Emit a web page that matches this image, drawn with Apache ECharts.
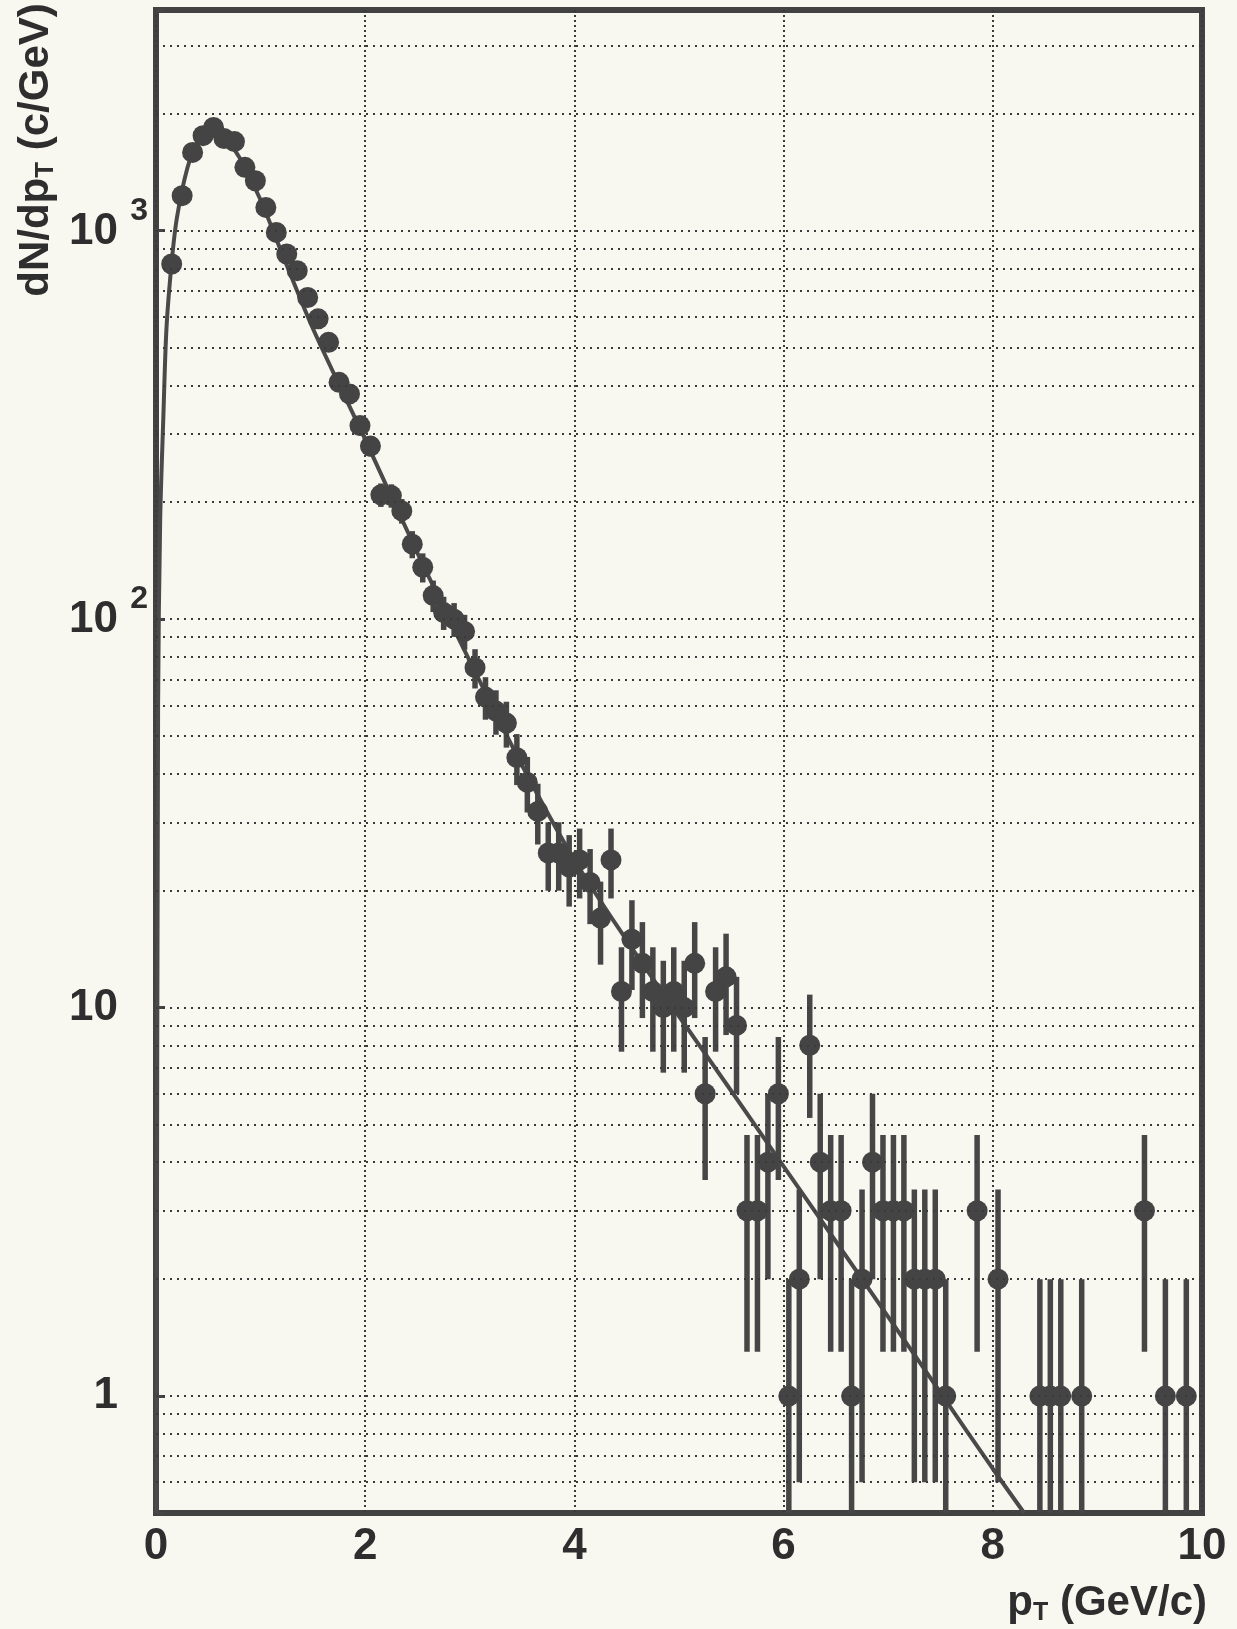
<!DOCTYPE html>
<html><head><meta charset="utf-8">
<script src="https://cdn.jsdelivr.net/npm/echarts@6/dist/echarts.min.js"></script>
<style>html,body{margin:0;padding:0;background:#f8f7f0}#c{width:1237px;height:1629px}</style>
</head><body><div id="c"></div>
<script>
// ---- data ----
const pT = [0.15,0.25,0.35,0.45,0.55,0.65,0.75,0.85,0.95,1.05,1.15,1.25,1.35,1.45,1.55,1.65,1.75,1.85,1.95,2.05,
  2.15,2.25,2.35,2.45,2.55,2.65,2.75,2.85,2.95,3.05,3.15,3.25,3.35,3.45,3.55,3.65,3.75,3.85,3.95,4.05,
  4.15,4.25,4.35,4.45,4.55,4.65,4.75,4.85,4.95,5.05,5.15,5.25,5.35,5.45,5.55,5.65,5.75,5.85,5.95,6.05,
  6.15,6.25,6.35,6.45,6.55,6.65,6.75,6.85,6.95,7.05,7.15,7.25,7.35,7.45,7.55,7.85,8.05,8.45,8.55,8.65,
  8.85,9.45,9.65,9.85];
const dNdpT = [821,1231,1591,1757,1845,1727,1696,1456,1345,1148,990,871,789,673,593,516,407,380,315,279,
  209,208,190,156,136,115,104,100,93,75,63,58,54,44,38,32,25,25,23,24,
  21,17,24,11,15,13,11,10,11,10,13,6,11,12,9,3,3,4,6,1,
  2,8,4,3,3,1,2,4,3,3,3,2,2,2,1,3,2,1,1,1,
  1,3,1,1];
const dNdpTErr = [28.7,35.1,39.9,41.9,43.0,41.6,41.2,38.2,36.7,33.9,31.5,29.5,28.1,25.9,24.4,22.7,20.2,19.5,17.7,16.7,
  14.5,14.4,13.8,12.5,11.7,10.7,10.2,10.0,9.6,8.7,7.9,7.6,7.3,6.6,6.2,5.7,5.0,5.0,4.8,4.9,
  4.6,4.1,4.9,3.3,3.9,3.6,3.3,3.2,3.3,3.2,3.6,2.4,3.3,3.5,3.0,1.7,1.7,2.0,2.4,1.0,
  1.4,2.8,2.0,1.7,1.7,1.0,1.4,2.0,1.7,1.7,1.7,1.4,1.4,1.4,1.0,1.7,1.4,1.0,1.0,1.0,
  1.0,1.7,1.0,1.0];
const fitPT  = [0.005,0.02,0.04,0.07,0.1,0.15,0.2,0.3,0.4,0.5,0.6,0.7,0.8,1.0,1.2,1.5,2.0,2.5,3.0,3.5,4.0,4.5,5.0,5.5,6.0,6.5,7.0,7.5,8.0,8.3];
const fitVal = [0.5,60,180,330,560,830,1080,1450,1700,1790,1770,1680,1540,1200,880,560,290,148,78,42,24,14.9,9.5,6.1,3.9,2.5,1.6,1.02,0.65,0.5];
const xTickLabels = ['0','2','4','6','8','10'];
const yTickValues = [1,10,100,1000];
const yTickBase = ['1','10','10','10'];
const yTickExp  = ['','','2','3'];
const yMin = 0.5, yMax = 3700;

// ---- build ----
const points = pT.map((x,i)=>[x, dNdpT[i]]);
const bars = pT.map((x,i)=>[x, dNdpT[i]-dNdpTErr[i], dNdpT[i]+dNdpTErr[i]]);
const fit = fitPT.map((x,i)=>[x, fitVal[i]]);
const minorGrid = [];
for (let k=-1;k<=3;k++) for (let m=1;m<=9;m++){ const v=m*Math.pow(10,k); if (v>yMin*1.01 && v<yMax*0.99) minorGrid.push(+v.toPrecision(3)); }

const FONT = 'Liberation Sans';
const INK = '#2e2e2e';
const chart = echarts.init(document.getElementById('c'), null, {renderer:'canvas'});
chart.setOption({
  animation:false,
  backgroundColor:'#f8f7f0',
  grid:{left:156,right:35,top:10,bottom:116,show:true,borderColor:'#424242',borderWidth:6,backgroundColor:'transparent'},
  xAxis:{type:'value',min:0,max:10,interval:2,
    axisLine:{show:false},axisTick:{show:false},
    splitLine:{show:true,lineStyle:{type:[2,3],color:'#3a3a3a',width:2}},
    axisLabel:{margin:12,fontFamily:FONT,fontWeight:'bold',fontSize:44,color:INK,
      formatter:v=>{const i=[0,2,4,6,8,10].indexOf(v);return i<0?'':xTickLabels[i];}}
  },
  yAxis:{type:'log',logBase:10,min:yMin,max:yMax,
    axisLine:{show:false},
    axisTick:{show:true,inside:true,length:9,lineStyle:{color:'#454545',width:3}},
    splitLine:{show:false},
    axisLabel:{margin:8,color:INK,
      formatter:v=>{
        const i=yTickValues.findIndex(t=>Math.abs(t-v)/t<1e-6);
        if(i<0) return '';
        return yTickExp[i] ? '{s|'+yTickExp[i]+'}\n{c|'+yTickBase[i]+'}{pad| }' : '{b|'+yTickBase[i]+'}{pad| }';
      },
      rich:{
        b:{fontFamily:FONT,fontWeight:'bold',fontSize:44,lineHeight:44,color:INK},
        c:{fontFamily:FONT,fontWeight:'bold',fontSize:44,lineHeight:40,color:INK},
        s:{fontFamily:FONT,fontWeight:'bold',fontSize:32,lineHeight:2,color:INK,align:'right'},
        pad:{width:30,fontSize:10,lineHeight:2}
      }
    }
  },
  graphic:[
    {type:'text',x:1207,y:1603,style:{text:'{a|p}{t|T}{a| (GeV/c)}',textAlign:'right',textVerticalAlign:'middle',
      rich:{a:{fontFamily:FONT,fontWeight:'bold',fontSize:42,lineHeight:46,fill:INK},
            t:{fontFamily:FONT,fontWeight:'bold',fontSize:25,lineHeight:14,verticalAlign:'bottom',fill:INK}}}},
    {type:'text',x:36,y:150,rotation:Math.PI/2,style:{text:'{a|dN/dp}{t|T}{a| (c/GeV)}',textAlign:'center',textVerticalAlign:'middle',
      rich:{a:{fontFamily:FONT,fontWeight:'bold',fontSize:42,lineHeight:46,fill:INK},
            t:{fontFamily:FONT,fontWeight:'bold',fontSize:26,lineHeight:14,verticalAlign:'bottom',fill:INK}}}}
  ],
  series:[
    {type:'line',data:fit,smooth:0.3,showSymbol:false,symbol:'none',z:2,clip:true,
      lineStyle:{color:'#4a4a4a',width:4},
      markLine:{silent:true,symbol:'none',label:{show:false},animation:false,
        lineStyle:{type:[2,5],color:'#3a3a3a',width:2},
        data:minorGrid.map(v=>({yAxis:v}))}
    },
    {type:'custom',z:3,data:bars,
      renderItem:function(params,api){
        const x=api.value(0);
        const lo=Math.max(api.value(1),yMin);
        const hi=Math.min(api.value(2),yMax);
        const a=api.coord([x,hi]), b=api.coord([x,lo]);
        return {type:'line',shape:{x1:a[0],y1:a[1],x2:b[0],y2:b[1]},style:{stroke:'#464646',lineWidth:5.5}};
      }
    },
    {type:'scatter',z:4,data:points,symbol:'circle',symbolSize:21,itemStyle:{color:'#444444',opacity:1}}
  ]
});
</script></body></html>
